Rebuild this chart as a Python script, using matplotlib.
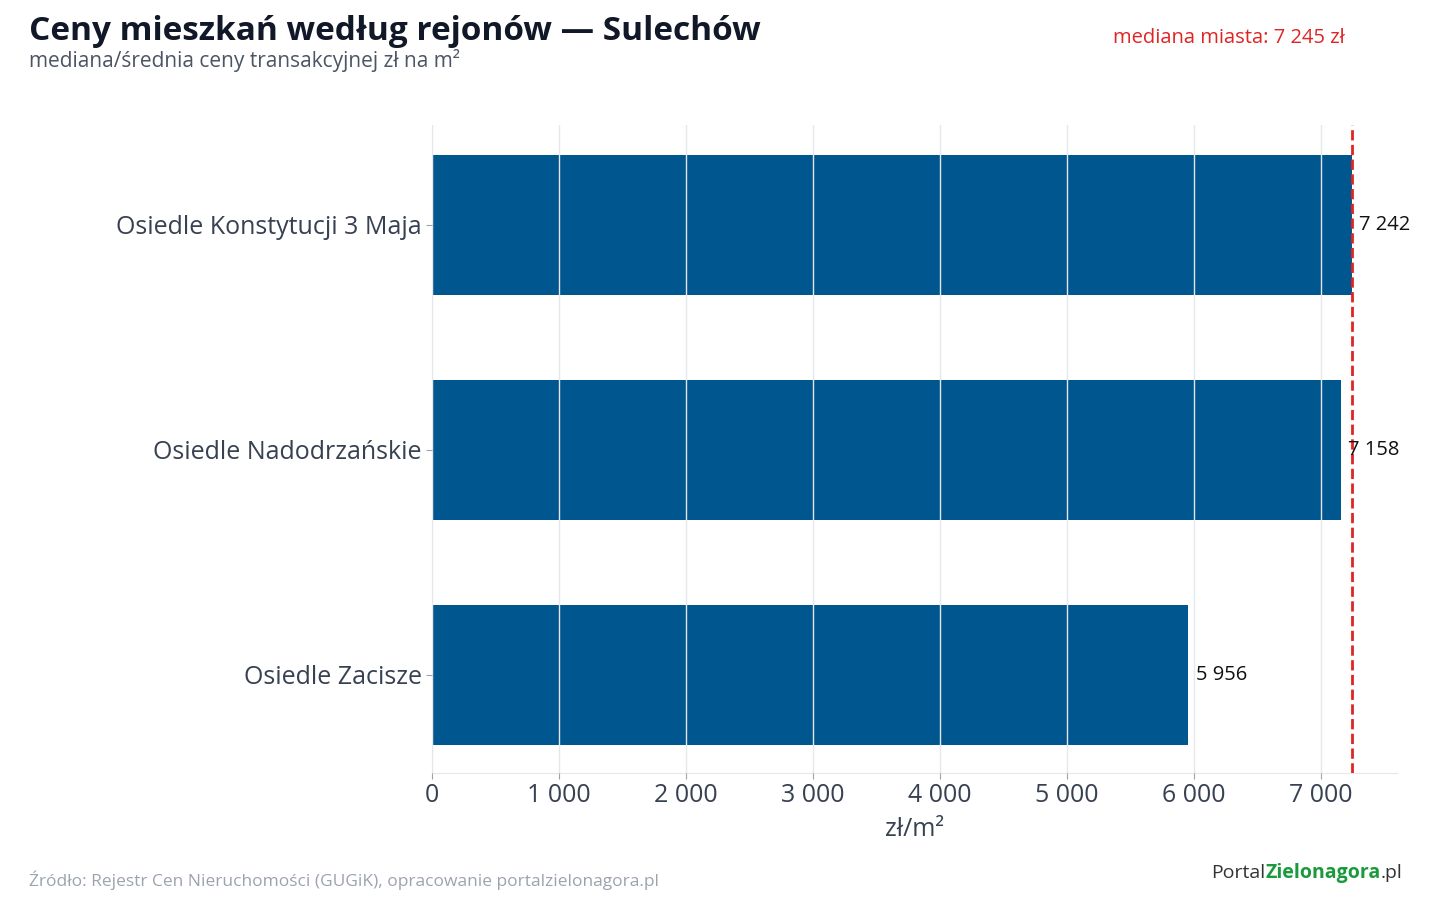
import matplotlib
matplotlib.use("Agg")
import matplotlib.pyplot as plt

plt.rcParams['font.family'] = ['Open Sans', 'DejaVu Sans']

categories = ["Osiedle Konstytucji 3 Maja", "Osiedle Nadodrzańskie", "Osiedle Zacisze"]
values = [7242, 7158, 5956]
labels = ["7 242", "7 158", "5 956"]
median = 7245
xticks = [0, 1000, 2000, 3000, 4000, 5000, 6000, 7000]
xticklabels = ["0", "1 000", "2 000", "3 000", "4 000", "5 000", "6 000", "7 000"]

fig = plt.figure(figsize=(14.4, 9), dpi=100)
ax = fig.add_axes([432/1440, 1-773/900, (1397-432)/1440, (773-125)/900])
ypos = list(range(len(categories)))
ax.barh(ypos, values, height=0.62, color='#00568e', zorder=1)
ax.set_xlim(0, 7600)
ax.set_ylim(2.436, -0.444)
ax.set_yticks(ypos)
ax.set_yticklabels(categories, fontsize=18, color='#374151')
ax.set_xticks(xticks)
ax.set_xticklabels(xticklabels, fontsize=18, color='#374151')
ax.set_xlabel("zł/m²", fontsize=18, color='#374151', labelpad=6)
ax.grid(axis='x', color='#e5e7eb', linewidth=1, zorder=2)
ax.set_axisbelow(False)
for s in ['top', 'right']:
    ax.spines[s].set_visible(False)
for s in ['left', 'bottom']:
    ax.spines[s].set_color('#e5e7eb')
ax.tick_params(axis='both', colors='#9ca3af', labelcolor='#374151', length=4)
for y, v, l in zip(ypos, values, labels):
    ax.text(v + 60, y, l, va='center', ha='left', fontsize=14.5, color='#111111', zorder=4)
ax.axvline(median, color='#e02424', linestyle='--', linewidth=2, zorder=3)

fig.text(29/1440, 1-32/900, "Ceny mieszkań według rejonów — Sulechów", fontsize=24,
         fontweight='bold', color='#111827', va='center')
fig.text(29/1440, 1-60/900, "mediana/średnia ceny transakcyjnej zł na m²", fontsize=15,
         color='#4b5563', va='center')
fig.text(1345/1440, 1-38/900, "mediana miasta: 7 245 zł", fontsize=14.5, color='#e02424',
         ha='right', va='center')
fig.text(29/1440, 1-880/900, "Źródło: Rejestr Cen Nieruchomości (GUGiK), opracowanie portalzielonagora.pl",
         fontsize=12.5, color='#9ca3af', va='center')
t1 = fig.text(1211/1440, 1-873/900, "Portal", fontsize=14, color='#333333', va='center')
fig.canvas.draw()
r = fig.canvas.get_renderer()
bb = t1.get_window_extent(r)
t2 = fig.text(bb.x1/1440, 1-873/900, "Zielonagora", fontsize=14, color='#1a9a3c',
              fontweight='bold', va='center')
bb2 = t2.get_window_extent(r)
fig.text(bb2.x1/1440, 1-873/900, ".pl", fontsize=14, color='#333333', va='center')

fig.savefig("out.png", dpi=100)
